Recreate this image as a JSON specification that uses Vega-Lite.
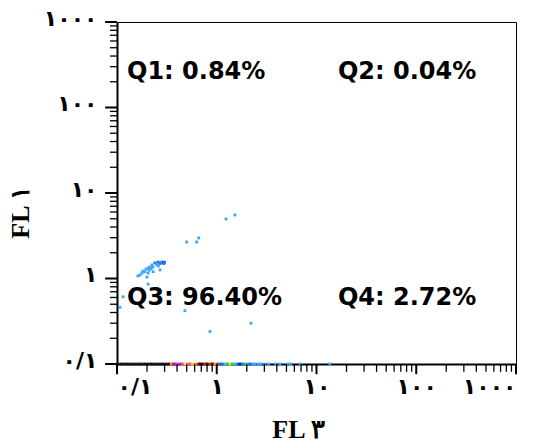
{
  "$schema": "https://vega.github.io/schema/vega-lite/v6.json",
  "autosize": {"type": "none"},
  "width": 399,
  "height": 342,
  "padding": {"left": 117, "top": 22, "right": 19, "bottom": 84},
  "background": "white",
  "config": {
    "view": {"stroke": "black", "strokeWidth": 1},
    "axis": {"grid": false, "ticks": false}
  },
  "datasets": {
    "events": [
      {"fl3": 0.162, "fl1": 1.07, "dens": "b1"},
      {"fl3": 0.178, "fl1": 1.16, "dens": "b1"},
      {"fl3": 0.182, "fl1": 1.22, "dens": "b1"},
      {"fl3": 0.19, "fl1": 1.2, "dens": "b1"},
      {"fl3": 0.195, "fl1": 1.29, "dens": "b1"},
      {"fl3": 0.205, "fl1": 1.33, "dens": "b1"},
      {"fl3": 0.21, "fl1": 1.25, "dens": "b1"},
      {"fl3": 0.214, "fl1": 1.36, "dens": "b1"},
      {"fl3": 0.22, "fl1": 1.3, "dens": "b1"},
      {"fl3": 0.224, "fl1": 1.44, "dens": "b1"},
      {"fl3": 0.229, "fl1": 1.36, "dens": "b1"},
      {"fl3": 0.23, "fl1": 1.2, "dens": "b1"},
      {"fl3": 0.24, "fl1": 1.52, "dens": "b2"},
      {"fl3": 0.25, "fl1": 1.45, "dens": "b1"},
      {"fl3": 0.258, "fl1": 1.56, "dens": "b2"},
      {"fl3": 0.26, "fl1": 1.4, "dens": "b1"},
      {"fl3": 0.27, "fl1": 1.5, "dens": "b2"},
      {"fl3": 0.27, "fl1": 1.26, "dens": "b1"},
      {"fl3": 0.282, "fl1": 1.56, "dens": "b2"},
      {"fl3": 0.289, "fl1": 1.52, "dens": "b2"},
      {"fl3": 0.295, "fl1": 1.5, "dens": "b2"},
      {"fl3": 0.3, "fl1": 1.55, "dens": "b2"},
      {"fl3": 0.205, "fl1": 1.16, "dens": "b1"},
      {"fl3": 0.2, "fl1": 1.04, "dens": "b1"},
      {"fl3": 0.17, "fl1": 1.1, "dens": "b1"},
      {"fl3": 0.205, "fl1": 0.86, "dens": "b1"},
      {"fl3": 1.24, "fl1": 4.97, "dens": "b1"},
      {"fl3": 1.52, "fl1": 5.53, "dens": "b1"},
      {"fl3": 0.5, "fl1": 2.67, "dens": "b1"},
      {"fl3": 0.63, "fl1": 2.67, "dens": "b1"},
      {"fl3": 0.66, "fl1": 2.98, "dens": "b1"},
      {"fl3": 0.115, "fl1": 0.61, "dens": "b1"},
      {"fl3": 0.107, "fl1": 0.46, "dens": "b1"},
      {"fl3": 0.48, "fl1": 0.42, "dens": "b1"},
      {"fl3": 0.855, "fl1": 0.24, "dens": "b1"},
      {"fl3": 2.2, "fl1": 0.3, "dens": "b1"},
      {"fl3": 0.1023, "fl1": 0.1, "dens": "k"},
      {"fl3": 0.1097, "fl1": 0.1, "dens": "k"},
      {"fl3": 0.1175, "fl1": 0.1, "dens": "k"},
      {"fl3": 0.126, "fl1": 0.1, "dens": "k"},
      {"fl3": 0.135, "fl1": 0.1, "dens": "k"},
      {"fl3": 0.1447, "fl1": 0.1, "dens": "k"},
      {"fl3": 0.155, "fl1": 0.1, "dens": "k"},
      {"fl3": 0.1662, "fl1": 0.1, "dens": "k"},
      {"fl3": 0.178, "fl1": 0.1, "dens": "k"},
      {"fl3": 0.191, "fl1": 0.1, "dens": "k"},
      {"fl3": 0.2046, "fl1": 0.1, "dens": "k"},
      {"fl3": 0.2193, "fl1": 0.1, "dens": "k"},
      {"fl3": 0.235, "fl1": 0.1, "dens": "k"},
      {"fl3": 0.252, "fl1": 0.1, "dens": "k"},
      {"fl3": 0.27, "fl1": 0.1, "dens": "k"},
      {"fl3": 0.289, "fl1": 0.1, "dens": "k"},
      {"fl3": 0.31, "fl1": 0.1, "dens": "k"},
      {"fl3": 0.332, "fl1": 0.1, "dens": "k"},
      {"fl3": 0.35, "fl1": 0.1, "dens": "orange"},
      {"fl3": 0.365, "fl1": 0.1, "dens": "red"},
      {"fl3": 0.38, "fl1": 0.1, "dens": "purple"},
      {"fl3": 0.4, "fl1": 0.1, "dens": "magenta"},
      {"fl3": 0.43, "fl1": 0.1, "dens": "purple"},
      {"fl3": 0.45, "fl1": 0.1, "dens": "magenta"},
      {"fl3": 0.48, "fl1": 0.1, "dens": "yellow"},
      {"fl3": 0.51, "fl1": 0.1, "dens": "orange"},
      {"fl3": 0.54, "fl1": 0.1, "dens": "magenta"},
      {"fl3": 0.57, "fl1": 0.1, "dens": "yellow"},
      {"fl3": 0.61, "fl1": 0.1, "dens": "orange"},
      {"fl3": 0.65, "fl1": 0.1, "dens": "red"},
      {"fl3": 0.68, "fl1": 0.1, "dens": "k"},
      {"fl3": 0.72, "fl1": 0.1, "dens": "k"},
      {"fl3": 0.76, "fl1": 0.1, "dens": "red"},
      {"fl3": 0.8, "fl1": 0.1, "dens": "k"},
      {"fl3": 0.86, "fl1": 0.1, "dens": "red"},
      {"fl3": 0.91, "fl1": 0.1, "dens": "k"},
      {"fl3": 0.96, "fl1": 0.1, "dens": "orange"},
      {"fl3": 1.02, "fl1": 0.1, "dens": "red"},
      {"fl3": 1.08, "fl1": 0.1, "dens": "b2"},
      {"fl3": 1.14, "fl1": 0.1, "dens": "b2"},
      {"fl3": 1.21, "fl1": 0.1, "dens": "cyan"},
      {"fl3": 1.28, "fl1": 0.1, "dens": "green"},
      {"fl3": 1.36, "fl1": 0.1, "dens": "yellow"},
      {"fl3": 1.44, "fl1": 0.1, "dens": "green"},
      {"fl3": 1.52, "fl1": 0.1, "dens": "cyan"},
      {"fl3": 1.61, "fl1": 0.1, "dens": "b2"},
      {"fl3": 1.71, "fl1": 0.1, "dens": "navy"},
      {"fl3": 1.81, "fl1": 0.1, "dens": "b2"},
      {"fl3": 1.92, "fl1": 0.1, "dens": "green"},
      {"fl3": 2.03, "fl1": 0.1, "dens": "b1"},
      {"fl3": 2.15, "fl1": 0.1, "dens": "b2"},
      {"fl3": 2.3, "fl1": 0.1, "dens": "b1"},
      {"fl3": 2.42, "fl1": 0.1, "dens": "b1"},
      {"fl3": 2.6, "fl1": 0.1, "dens": "b1"},
      {"fl3": 2.75, "fl1": 0.1, "dens": "b1"},
      {"fl3": 3.0, "fl1": 0.1, "dens": "b1"},
      {"fl3": 3.3, "fl1": 0.1, "dens": "b1"},
      {"fl3": 3.9, "fl1": 0.1, "dens": "b1"},
      {"fl3": 4.3, "fl1": 0.1, "dens": "b1"},
      {"fl3": 5.1, "fl1": 0.1, "dens": "b1"},
      {"fl3": 5.5, "fl1": 0.1, "dens": "b1"},
      {"fl3": 6.9, "fl1": 0.1, "dens": "b1"},
      {"fl3": 13.6, "fl1": 0.1, "dens": "b1"}
    ],
    "logTickValues": [
      {"v": 0.1, "kind": "major"}, {"v": 0.2, "kind": "minor"}, {"v": 0.3, "kind": "minor"}, {"v": 0.4, "kind": "minor"}, {"v": 0.5, "kind": "minor"}, {"v": 0.6, "kind": "minor"}, {"v": 0.7, "kind": "minor"}, {"v": 0.8, "kind": "minor"}, {"v": 0.9, "kind": "minor"},
      {"v": 1, "kind": "major"}, {"v": 2, "kind": "minor"}, {"v": 3, "kind": "minor"}, {"v": 4, "kind": "minor"}, {"v": 5, "kind": "minor"}, {"v": 6, "kind": "minor"}, {"v": 7, "kind": "minor"}, {"v": 8, "kind": "minor"}, {"v": 9, "kind": "minor"},
      {"v": 10, "kind": "major"}, {"v": 20, "kind": "minor"}, {"v": 30, "kind": "minor"}, {"v": 40, "kind": "minor"}, {"v": 50, "kind": "minor"}, {"v": 60, "kind": "minor"}, {"v": 70, "kind": "minor"}, {"v": 80, "kind": "minor"}, {"v": 90, "kind": "minor"},
      {"v": 100, "kind": "major"}, {"v": 200, "kind": "minor"}, {"v": 300, "kind": "minor"}, {"v": 400, "kind": "minor"}, {"v": 500, "kind": "minor"}, {"v": 600, "kind": "minor"}, {"v": 700, "kind": "minor"}, {"v": 800, "kind": "minor"}, {"v": 900, "kind": "minor"},
      {"v": 1000, "kind": "major"}
    ],
    "quadrants": [
      {"label": "Q1: 0.84%", "fl3": 0.126, "fl1": 260},
      {"label": "Q2: 0.04%", "fl3": 16.4, "fl1": 260},
      {"label": "Q3: 96.40%", "fl3": 0.126, "fl1": 0.59},
      {"label": "Q4: 2.72%", "fl3": 16.4, "fl1": 0.59}
    ]
  },
  "layer": [
    {
      "data": {"name": "events"},
      "mark": {"type": "square", "size": 8, "opacity": 1, "clip": false},
      "encoding": {
        "x": {
          "field": "fl3",
          "type": "quantitative",
          "scale": {"type": "log", "domain": [0.1, 1000], "nice": false},
          "axis": {
            "title": "FL ٣",
            "titleFont": "Liberation Serif",
            "titleFontWeight": "bold",
            "titleFontSize": 26,
            "titleColor": "black",
            "titleAnchor": "start",
            "titleAlign": "center",
            "titleX": 181,
            "titleY": 73,
            "titleBaseline": "alphabetic",
            "values": [0.1, 1, 10, 100, 1000],
            "labelExpr": "datum.value == 0.1 ? '٠/١' : datum.value == 1 ? '١' : datum.value == 10 ? '١٠' : datum.value == 100 ? '١٠٠' : '١٠٠٠'",
            "labelOverlap": false,
            "labelFont": "DejaVu Sans",
            "labelFontWeight": "bold",
            "labelFontSize": 22,
            "labelColor": "black",
            "labelPadding": 12,
            "labelFlush": true,
            "domainColor": "black",
            "domainWidth": 2
          }
        },
        "y": {
          "field": "fl1",
          "type": "quantitative",
          "scale": {"type": "log", "domain": [0.1, 1000], "nice": false},
          "axis": {
            "title": "FL ١",
            "titleFont": "Liberation Serif",
            "titleFontWeight": "bold",
            "titleFontSize": 26,
            "titleColor": "black",
            "titleAngle": 270,
            "titleAlign": "center",
            "titleBaseline": "middle",
            "titleX": -97,
            "titleY": 190,
            "values": [0.1, 1, 10, 100, 1000],
            "labelExpr": "datum.value == 0.1 ? '٠/١' : datum.value == 1 ? '١' : datum.value == 10 ? '١٠' : datum.value == 100 ? '١٠٠' : '١٠٠٠'",
            "labelOverlap": false,
            "labelFont": "DejaVu Sans",
            "labelFontWeight": "bold",
            "labelFontSize": 22,
            "labelColor": "black",
            "labelPadding": 20,
            "labelFlush": false,
            "labelOffset": -4,
            "domainColor": "black",
            "domainWidth": 2
          }
        },
        "color": {
          "field": "dens",
          "type": "nominal",
          "legend": null,
          "scale": {
            "domain": ["b1", "b2", "navy", "cyan", "green", "yellow", "orange", "red", "magenta", "purple", "k"],
            "range": ["#3aa6f8", "#1c6ff5", "#1a1aa8", "#19d0f0", "#35c83a", "#f2e21a", "#ff9a1a", "#f01e1e", "#ff2ee8", "#8c28c8", "#111111"]
          }
        }
      }
    },
    {
      "data": {"name": "logTickValues"},
      "transform": [{"filter": "datum.kind == 'major'"}],
      "mark": {"type": "rule", "color": "black", "strokeWidth": 2, "clip": false},
      "encoding": {"x": {"field": "v", "type": "quantitative"}, "y": {"datum": 0.1}, "y2": {"datum": 0.076}}
    },
    {
      "data": {"name": "logTickValues"},
      "transform": [{"filter": "datum.kind == 'minor'"}],
      "mark": {"type": "rule", "color": "black", "strokeWidth": 1.3, "clip": false},
      "encoding": {"x": {"field": "v", "type": "quantitative"}, "y": {"datum": 0.1}, "y2": {"datum": 0.081}}
    },
    {
      "data": {"name": "logTickValues"},
      "transform": [{"filter": "datum.kind == 'major'"}],
      "mark": {"type": "rule", "color": "black", "strokeWidth": 2, "clip": false},
      "encoding": {"y": {"field": "v", "type": "quantitative"}, "x": {"datum": 0.1}, "x2": {"datum": 0.076}}
    },
    {
      "data": {"name": "logTickValues"},
      "transform": [{"filter": "datum.kind == 'minor'"}],
      "mark": {"type": "rule", "color": "black", "strokeWidth": 1.3, "clip": false},
      "encoding": {"y": {"field": "v", "type": "quantitative"}, "x": {"datum": 0.1}, "x2": {"datum": 0.085}}
    },
    {
      "mark": {"type": "rule", "color": "black", "strokeWidth": 1.5},
      "encoding": {"x": {"datum": 1}}
    },
    {
      "mark": {"type": "rule", "color": "black", "strokeWidth": 1.5},
      "encoding": {"y": {"datum": 1}}
    },
    {
      "data": {"name": "quadrants"},
      "mark": {"type": "text", "align": "left", "baseline": "middle", "font": "DejaVu Sans", "fontWeight": "bold", "fontSize": 24, "color": "black"},
      "encoding": {
        "x": {"field": "fl3", "type": "quantitative"},
        "y": {"field": "fl1", "type": "quantitative"},
        "text": {"field": "label"}
      }
    }
  ]
}
